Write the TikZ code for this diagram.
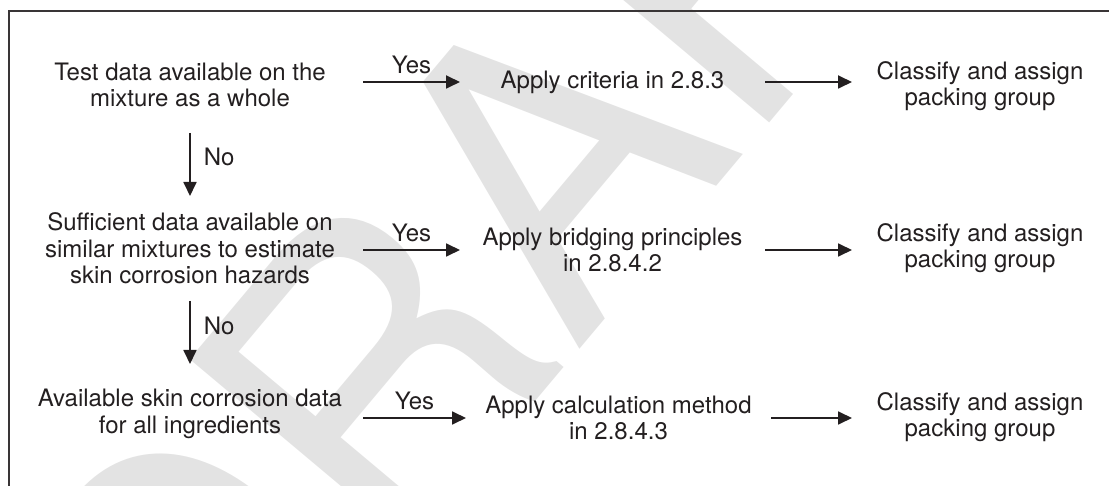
\documentclass[tikz,border=0pt]{standalone}
\usepackage{fontspec}
\setmainfont{TeX Gyre Heros}
\usetikzlibrary{arrows.meta}
\definecolor{ink}{HTML}{231F20}
\definecolor{wm}{HTML}{E3E3E3}
\begin{document}
\begin{tikzpicture}[x=1pt,y=-1pt,
  txt/.style={font=\fontsize{24}{26.5}\selectfont, text=ink, align=center, inner sep=0pt, outer sep=0pt},
  arr/.style={draw=ink, line width=1.8pt, -{Triangle[length=14pt,width=13pt]}},
  lbl/.style={font=\fontsize{24}{26.5}\selectfont, text=ink, inner sep=0pt},
  frame/.style={draw=ink!90, line width=1.4pt}
]
\useasboundingbox (0,0) rectangle (1109,486);
\begin{scope}
  \clip (0,0) rectangle (1109,486);
  \node[font=\fontsize{400}{400}\selectfont, text=wm, rotate=50, anchor=base west, inner sep=0pt] (wmark) at (204,797) {DRAFT};
\end{scope}
\draw[frame] (9,486) -- (9,11) -- (1109,11);

% column 1
\node[txt, minimum width=346pt, minimum height=96pt] (t1) at (190,85) {Test data available on the\\mixture as a whole};
\node[txt, minimum width=346pt, minimum height=105pt] (t2) at (190,248.5) {Sufficient data available on\\similar mixtures to estimate\\skin corrosion hazards};
\node[txt, minimum width=346pt, minimum height=100pt] (t3) at (190,414) {Available skin corrosion data\\for all ingredients};

% column 2
\node[txt, minimum width=305pt] (a1) at (612.5,82) {Apply criteria in 2.8.3};
\node[txt, minimum width=305pt] (a2) at (612.5,250) {Apply bridging principles\\in 2.8.4.2};
\node[txt, minimum width=305pt] (a3) at (618.5,418) {Apply calculation method\\in 2.8.4.3};

% column 3
\node[txt, minimum width=256pt] (c1) at (980,86) {Classify and assign\\packing group};
\node[txt, minimum width=256pt] (c2) at (980,248) {Classify and assign\\packing group};
\node[txt, minimum width=256pt] (c3) at (980,417) {Classify and assign\\packing group};

% connectors
\draw[arr] (t1.east |- a1.west) -- node[lbl, midway, above=7pt] {Yes} (a1.west);
\draw[arr] (t2.east |- a2.west) -- node[lbl, midway, above=7pt] {Yes} (a2.west);
\draw[arr] (t3.east |- a3.west) -- node[lbl, midway, above=7pt] {Yes} (a3.west);
\draw[arr] (a1.east) -- (a1.east -| c1.west);
\draw[arr] (a2.east) -- (a2.east -| c2.west);
\draw[arr] (a3.east) -- (a3.east -| c3.west);
\draw[arr] (t1.south) -- node[lbl, pos=0.38, right=13pt] {No} (t2.north);
\draw[arr] (t2.south) -- node[lbl, pos=0.4, right=13pt] {No} (t3.north);
\end{tikzpicture}
\end{document}
